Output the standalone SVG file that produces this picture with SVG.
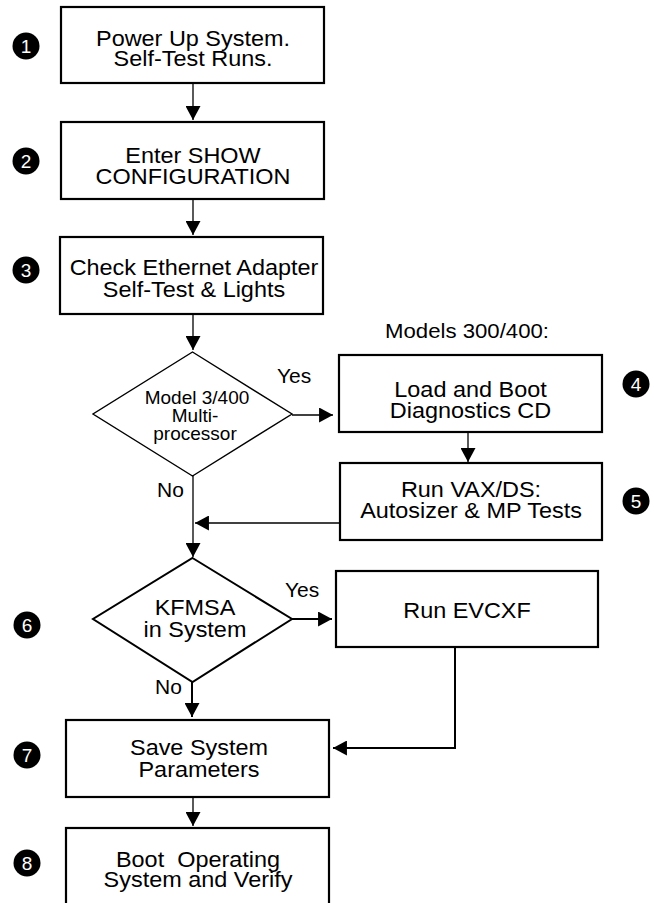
<svg xmlns="http://www.w3.org/2000/svg" width="654" height="903" viewBox="0 0 654 903">
<defs>
<style>
text{font-family:"Liberation Sans",Arial,sans-serif;fill:#000;}
.t{font-size:22px;text-anchor:middle;}
.d{font-size:19px;text-anchor:middle;}
.lbl{font-size:21px;}
.box{fill:#fff;stroke:#000;stroke-width:2.2;}
.dia{fill:#fff;stroke:#000;stroke-width:1.4;}
.dia2{fill:#fff;stroke:#000;stroke-width:2;}
.num circle{fill:#000;}
.num text{fill:#fff;font-size:19px;text-anchor:middle;}
.c{fill:none;stroke:#000;stroke-width:1.3;}
.c2{fill:none;stroke:#000;stroke-width:2;}
</style>
<marker id="ah" markerUnits="userSpaceOnUse" markerWidth="15" markerHeight="15" refX="13" refY="7" orient="auto" viewBox="0 0 13 14">
<path d="M0,0 L13,7 L0,14 Z" fill="#000"/>
</marker>
</defs>
<rect width="654" height="903" fill="#fff"/>

<g id="connectors">
<line class="c" x1="193" y1="83" x2="193" y2="120" marker-end="url(#ah)"/>
<line class="c" x1="193" y1="199" x2="193" y2="235" marker-end="url(#ah)"/>
<line class="c" x1="193" y1="314" x2="193" y2="350" marker-end="url(#ah)"/>
<line class="c" x1="292" y1="415" x2="333" y2="415" marker-end="url(#ah)"/>
<line class="c" x1="468" y1="432" x2="468" y2="462" marker-end="url(#ah)"/>
<line class="c" x1="193" y1="476" x2="193" y2="557" marker-end="url(#ah)"/>
<line class="c" x1="340" y1="523" x2="195" y2="523" marker-end="url(#ah)"/>
<line class="c2" x1="292" y1="619" x2="332" y2="619" marker-end="url(#ah)"/>
<line class="c2" x1="192" y1="682" x2="192" y2="717" marker-end="url(#ah)"/>
<polyline class="c2" points="455,647 455,748 333,748" marker-end="url(#ah)"/>
<line class="c" x1="193" y1="797" x2="193" y2="826" marker-end="url(#ah)"/>
</g>

<g id="n1">
<rect class="box" x="61" y="7" width="263" height="76"/>
<g transform="translate(193 0) scale(1.065 1)">
<text class="t" x="0" y="46">Power Up System.</text>
<text class="t" x="0" y="66">Self-Test Runs.</text>
</g>
</g>
<g id="n2">
<rect class="box" x="61" y="122" width="263" height="77"/>
<g transform="translate(193 0) scale(1.065 1)">
<text class="t" x="0" y="163">Enter SHOW</text>
<text class="t" x="0" y="184">CONFIGURATION</text>
</g>
</g>
<g id="n3">
<rect class="box" x="60" y="237" width="263" height="77"/>
<g transform="translate(194 0) scale(1.065 1)">
<text class="t" x="0" y="275">Check Ethernet Adapter</text>
<text class="t" x="0" y="297">Self-Test &amp; Lights</text>
</g>
</g>
<g id="n4">
<polygon class="dia" points="192.5,352 292,414 192.5,476 93,414"/>
<text class="d" x="197" y="404">Model 3/400</text>
<text class="d" x="195" y="422">Multi-</text>
<text class="d" x="195" y="440">processor</text>
</g>
<g id="lbl-yes1"><text class="lbl" x="277" y="383">Yes</text></g>
<g id="lbl-no1"><text class="lbl" x="157" y="497">No</text></g>
<g id="lbl-models"><text class="lbl" x="385" y="338" textLength="164" lengthAdjust="spacingAndGlyphs">Models 300/400:</text></g>
<g id="n5">
<rect class="box" x="339" y="355" width="263" height="77"/>
<g transform="translate(470.5 0) scale(1.065 1)">
<text class="t" x="0" y="397">Load and Boot</text>
<text class="t" x="0" y="418">Diagnostics CD</text>
</g>
</g>
<g id="n6">
<rect class="box" x="340" y="463" width="262" height="77"/>
<g transform="translate(471 0) scale(1.065 1)">
<text class="t" x="0" y="497">Run VAX/DS:</text>
<text class="t" x="0" y="518">Autosizer &amp; MP Tests</text>
</g>
</g>
<g id="n7">
<polygon class="dia2" points="192.5,558 292,619 192.5,682 93,619"/>
<g transform="translate(195 0) scale(1.065 1)">
<text class="t" x="0" y="615">KFMSA</text>
<text class="t" x="0" y="637">in System</text>
</g>
</g>
<g id="lbl-yes2"><text class="lbl" x="285" y="597">Yes</text></g>
<g id="lbl-no2"><text class="lbl" x="155" y="694">No</text></g>
<g id="n8">
<rect class="box" x="336" y="571" width="262" height="76"/>
<g transform="translate(467 0) scale(1.065 1)">
<text class="t" x="0" y="618">Run EVCXF</text>
</g>
</g>
<g id="n9">
<rect class="box" x="66" y="720" width="263" height="77"/>
<g transform="translate(199 0) scale(1.065 1)">
<text class="t" x="0" y="755">Save System</text>
<text class="t" x="0" y="777">Parameters</text>
</g>
</g>
<g id="n10">
<rect class="box" x="66" y="828" width="263" height="90"/>
<g transform="translate(198 0) scale(1.065 1)">
<text class="t" x="0" y="867" xml:space="preserve">Boot  Operating</text>
<text class="t" x="0" y="887">System and Verify</text>
</g>
</g>

<g id="c1" class="num"><circle cx="26" cy="46" r="13.5"/><text x="26" y="53">1</text></g>
<g id="c2" class="num"><circle cx="26" cy="161" r="13.5"/><text x="26" y="168">2</text></g>
<g id="c3" class="num"><circle cx="26" cy="270" r="13.5"/><text x="26" y="277">3</text></g>
<g id="c4" class="num"><circle cx="636" cy="384" r="13.5"/><text x="636" y="391">4</text></g>
<g id="c5" class="num"><circle cx="636" cy="501" r="13.5"/><text x="636" y="508">5</text></g>
<g id="c6" class="num"><circle cx="27" cy="625" r="13.5"/><text x="27" y="632">6</text></g>
<g id="c7" class="num"><circle cx="27" cy="755" r="13.5"/><text x="27" y="762">7</text></g>
<g id="c8" class="num"><circle cx="27" cy="863" r="13.5"/><text x="27" y="870">8</text></g>
</svg>
